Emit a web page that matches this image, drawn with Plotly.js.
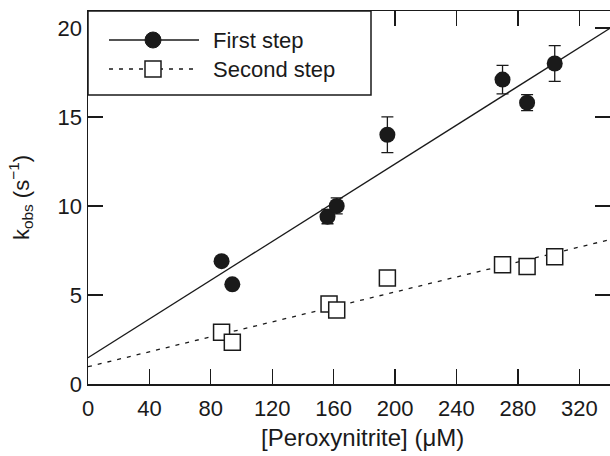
<!DOCTYPE html>
<html>
<head>
<meta charset="utf-8">
<script src="https://cdn.plot.ly/plotly-3.0.1.min.js"></script>
<style>html,body{margin:0;padding:0;background:#fff;}#chart{width:610px;height:456px;}</style>
</head>
<body>
<div id="chart"></div>
<script>
// Data
const firstX = [87, 94, 156, 162, 195, 270, 286, 304];
const firstY = [6.9, 5.6, 9.4, 10.0, 14.0, 17.1, 15.8, 18.0];
const firstErr = [0.2, 0.2, 0.4, 0.45, 1.0, 0.8, 0.45, 1.0];
const secondX = [87, 94, 157, 162, 195, 270, 286, 304];
const secondY = [2.9, 2.35, 4.5, 4.15, 5.95, 6.7, 6.6, 7.15];
const fitX = [0, 340];
const firstFitY = [1.48, 19.98];
const secondFitY = [0.97, 8.11];
const xTicks = [0, 40, 80, 120, 160, 200, 240, 280, 320];
const yTicks = [0, 5, 10, 15, 20];
const seriesNames = ['First step', 'Second step'];
const xTitle = '[Peroxynitrite] (μM)';
const yTitle = 'k<sub>obs</sub> (s<sup>−1</sup>)';

const ink = '#1a1a1a';
const font = {family: 'Liberation Sans, Arial, sans-serif', size: 22, color: ink};
const titleFont = {family: 'Liberation Sans, Arial, sans-serif', size: 24, color: ink};

const traces = [
  {x: fitX, y: firstFitY, mode: 'lines', line: {color: ink, width: 1.3}, hoverinfo: 'skip', showlegend: false},
  {x: fitX, y: secondFitY, mode: 'lines', line: {color: ink, width: 1.3, dash: '4px,6px'}, hoverinfo: 'skip', showlegend: false},
  {x: firstX, y: firstY, mode: 'markers', name: seriesNames[0], showlegend: false,
   marker: {symbol: 'circle', size: 16, color: ink},
   error_y: {type: 'data', array: firstErr, visible: true, color: ink, thickness: 1.3, width: 6}},
  {x: secondX, y: secondY, mode: 'markers', name: seriesNames[1], showlegend: false,
   marker: {symbol: 'square', size: 16, color: '#fff', line: {color: ink, width: 1.5}}}
];

function px(x) { return (x - 88) / 522; }
function py(y) { return (384 - y) / 373; }

const shapes = [
  {type: 'rect', xref: 'paper', yref: 'paper', x0: 0, x1: px(371), y0: py(95), y1: 1,
   fillcolor: '#fff', line: {color: ink, width: 1.5}, layer: 'above'},
  {type: 'line', xref: 'paper', yref: 'paper', x0: px(109), x1: px(199), y0: py(40), y1: py(40),
   line: {color: ink, width: 1.3}, layer: 'above'},
  {type: 'line', xref: 'paper', yref: 'paper', x0: px(109), x1: px(199), y0: py(69), y1: py(69),
   line: {color: ink, width: 1.3, dash: '4px,6px'}, layer: 'above'},
  {type: 'circle', xref: 'paper', yref: 'paper', xsizemode: 'pixel', ysizemode: 'pixel',
   xanchor: px(153), yanchor: py(40), x0: -8, x1: 8, y0: -8, y1: 8,
   fillcolor: ink, line: {color: ink, width: 1}, layer: 'above'},
  {type: 'rect', xref: 'paper', yref: 'paper', xsizemode: 'pixel', ysizemode: 'pixel',
   xanchor: px(153), yanchor: py(69), x0: -8, x1: 8, y0: -8, y1: 8,
   fillcolor: '#fff', line: {color: ink, width: 1.5}, layer: 'above'}
];

const annotations = [
  {xref: 'paper', yref: 'paper', x: px(211), y: py(40), xanchor: 'left', yanchor: 'middle',
   text: seriesNames[0], showarrow: false, font: font},
  {xref: 'paper', yref: 'paper', x: px(211), y: py(69), xanchor: 'left', yanchor: 'middle',
   text: seriesNames[1], showarrow: false, font: font},
  {xref: 'paper', yref: 'paper', x: px(362), y: py(437), xanchor: 'center', yanchor: 'middle',
   text: xTitle, showarrow: false, font: titleFont}
];

const axisCommon = {
  showgrid: false, zeroline: false, showline: true, mirror: 'ticks',
  linecolor: ink, linewidth: 1.5, ticks: 'inside', ticklen: 15, tickwidth: 1.3, tickcolor: ink,
  tickfont: font
};

const layout = {
  width: 610, height: 456,
  margin: {l: 88, r: 0, t: 11, b: 72, pad: 0},
  paper_bgcolor: '#fff', plot_bgcolor: '#fff',
  font: font,
  showlegend: false,
  xaxis: Object.assign({}, axisCommon, {
    range: [0, 340], tickvals: xTicks, ticktext: xTicks.map(String), ticklabelstandoff: 4
  }),
  yaxis: Object.assign({}, axisCommon, {
    range: [0, 20.95], tickvals: yTicks, ticktext: yTicks.map(String),
    title: {text: yTitle, font: font, standoff: 22}
  }),
  shapes: shapes,
  annotations: annotations
};

Plotly.newPlot('chart', traces, layout, {displayModeBar: false, staticPlot: true});
</script>
</body>
</html>
